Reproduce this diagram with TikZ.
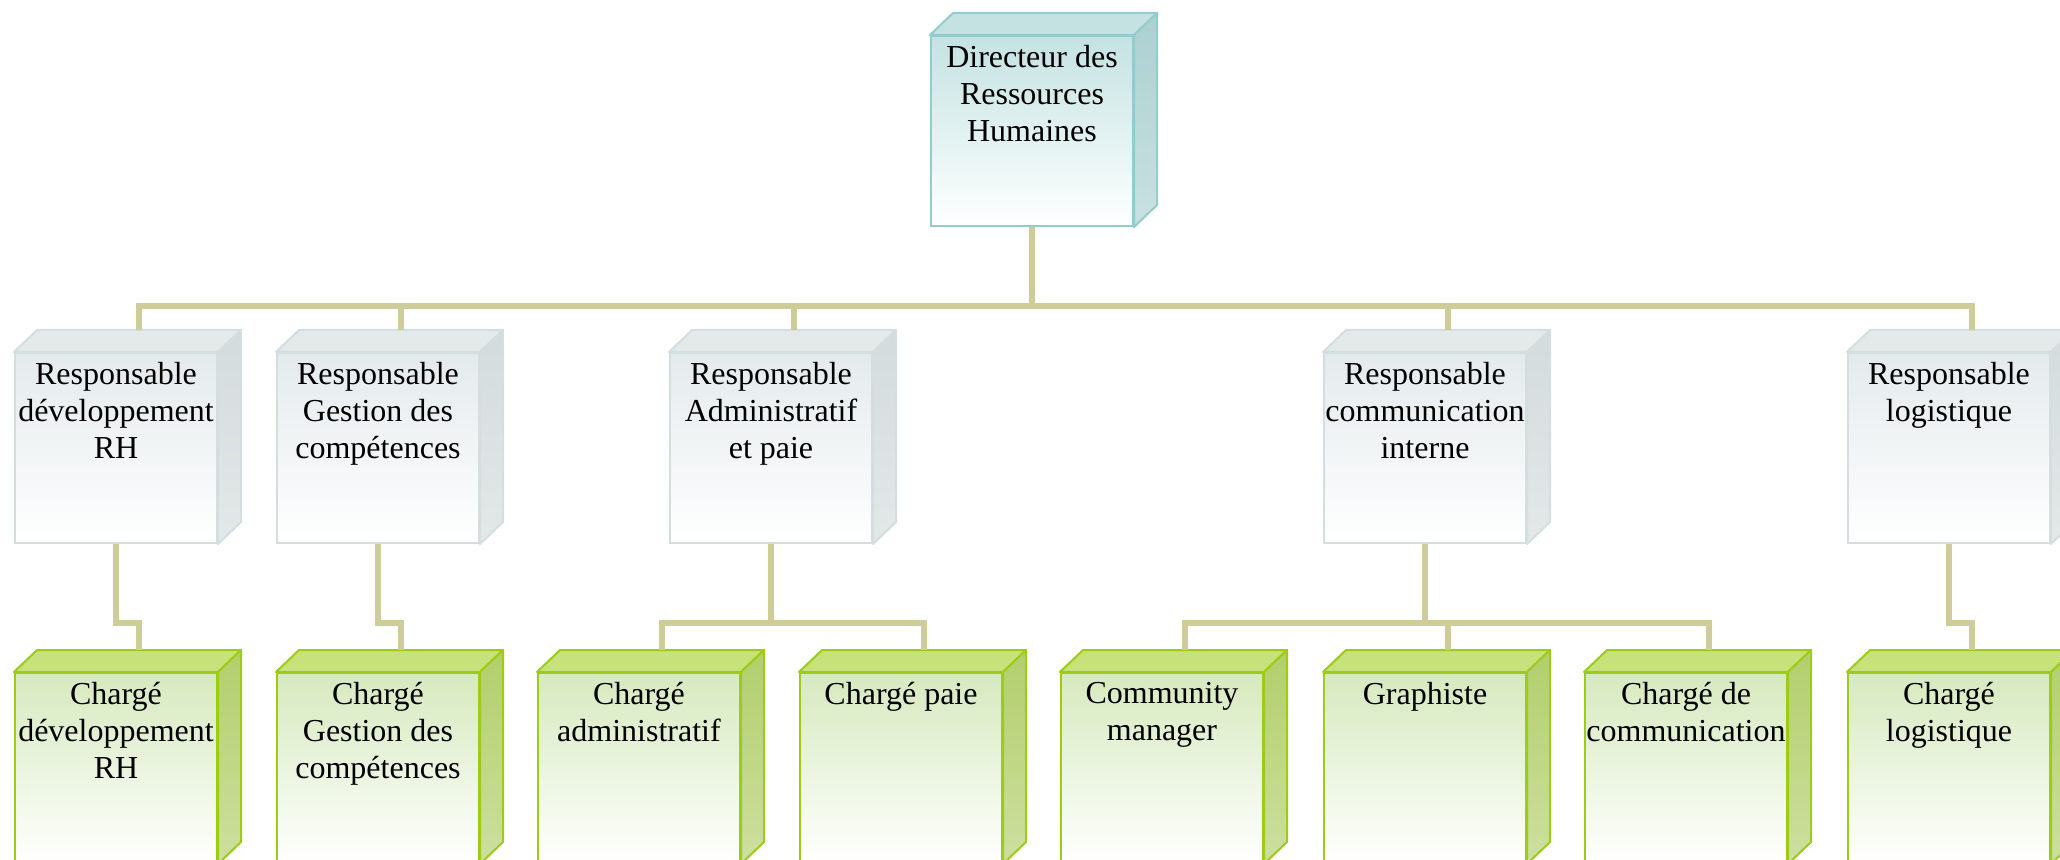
\documentclass[tikz,border=0pt]{standalone}
\usepackage{fontspec}
\setmainfont{Liberation Serif}
\begin{document}
\begin{tikzpicture}[x=0.5pt, y=-0.5pt,
    every node/.style={font=\fontsize{16}{18.5}\selectfont},
    face/.style={line width=1pt, minimum width=101pt, minimum height=95pt,
        inner sep=0pt, anchor=north west, bottom color=white},
    dirbox/.style={face, draw=dirline, top color=dirfront},
    respbox/.style={face, draw=respline, top color=respfront},
    chargebox/.style={face, draw=chargeline, top color=chargefront},
    link/.style={draw=linkcol, line width=3.3pt}]
    \definecolor{dirfront}{RGB}{196,226,226}
    \definecolor{dirtop}{RGB}{196,226,226}
    \definecolor{dirside}{RGB}{172,208,208}
    \definecolor{dirline}{RGB}{146,204,204}
    \definecolor{respfront}{RGB}{228,234,236}
    \definecolor{resptop}{RGB}{228,233,234}
    \definecolor{respside}{RGB}{212,219,220}
    \definecolor{respline}{RGB}{212,222,224}
    \definecolor{chargefront}{RGB}{214,233,190}
    \definecolor{chargetop}{RGB}{199,225,123}
    \definecolor{chargeside}{RGB}{178,206,108}
    \definecolor{chargeline}{RGB}{156,203,25}
    \definecolor{linkcol}{RGB}{206,204,152}

    \useasboundingbox (0,0) rectangle (2060,860);

    \newcommand{\boxtext}[1]{\parbox[t][86pt][t]{101pt}{\centering #1}}
    % Faces du dessus et de côté pour donner l'effet de volume.
    \newcommand{\depthfaces}[4]{%
        \filldraw[fill=#2, draw=#4, line width=1pt, line join=round]
            (#1.north west) -- ++(23,-22) -- ([shift={(23,-22)}]#1.north east)
            -- (#1.north east) -- cycle;
        \filldraw[top color=#3, bottom color=#3!65!white, draw=#4, line width=1pt, line join=round]
            (#1.north east) -- ++(23,-22) -- ([shift={(23,-22)}]#1.south east)
            -- (#1.south east) -- cycle;
        \coordinate (#1-top) at ([shift={(23,-22)}]#1.north);
    }

    % Direction.
    \node[dirbox] (dir) at (930,35) {\boxtext{Directeur des\\Ressources\\Humaines}};
    \depthfaces{dir}{dirtop}{dirside}{dirline}

    % Responsables.
    \node[respbox] (rdev) at (14,352) {\boxtext{Responsable\\développement\\RH}};
    \node[respbox] (rgest) at (276,352) {\boxtext{Responsable\\Gestion des\\compétences}};
    \node[respbox] (radm) at (669,352) {\boxtext{Responsable\\Administratif\\et paie}};
    \node[respbox] (rcom) at (1323,352) {\boxtext{Responsable\\communication\\interne}};
    \node[respbox] (rlog) at (1847,352) {\boxtext{Responsable\\logistique}};
    \foreach \n in {rdev,rgest,radm,rcom,rlog}
        {\depthfaces{\n}{resptop}{respside}{respline}}

    % Chargés.
    \node[chargebox] (cdev) at (14,672) {\boxtext{Chargé\\développement\\RH}};
    \node[chargebox] (cgest) at (276,672) {\boxtext{Chargé\\Gestion des\\compétences}};
    \node[chargebox] (cadm) at (537,672) {\boxtext{Chargé\\administratif}};
    \node[chargebox] (cpaie) at (799,672) {\boxtext{Chargé paie}};
    \node[chargebox] (ccm) at (1060,672) {\boxtext{Community\\manager}};
    \node[chargebox] (cgraph) at (1323,672) {\boxtext{Graphiste}};
    \node[chargebox] (ccom) at (1584,672) {\boxtext{Chargé de\\communication}};
    \node[chargebox] (clog) at (1847,672) {\boxtext{Chargé\\logistique}};
    \foreach \n in {cdev,cgest,cadm,cpaie,ccm,cgraph,ccom,clog}
        {\depthfaces{\n}{chargetop}{chargeside}{chargeline}}

    % Liaisons hiérarchiques.
    \coordinate (bus) at (0,306);
    \coordinate (elbow) at (0,623);
    \foreach \r in {rdev,rgest,radm,rcom,rlog}
        \draw[link] (dir.south) -- (dir.south |- bus) -| (\r-top);
    \foreach \r/\c in {rdev/cdev,rgest/cgest,radm/cadm,radm/cpaie,
                       rcom/ccm,rcom/cgraph,rcom/ccom,rlog/clog}
        \draw[link] (\r.south) -- (\r.south |- elbow) -| (\c-top);
\end{tikzpicture}
\end{document}
